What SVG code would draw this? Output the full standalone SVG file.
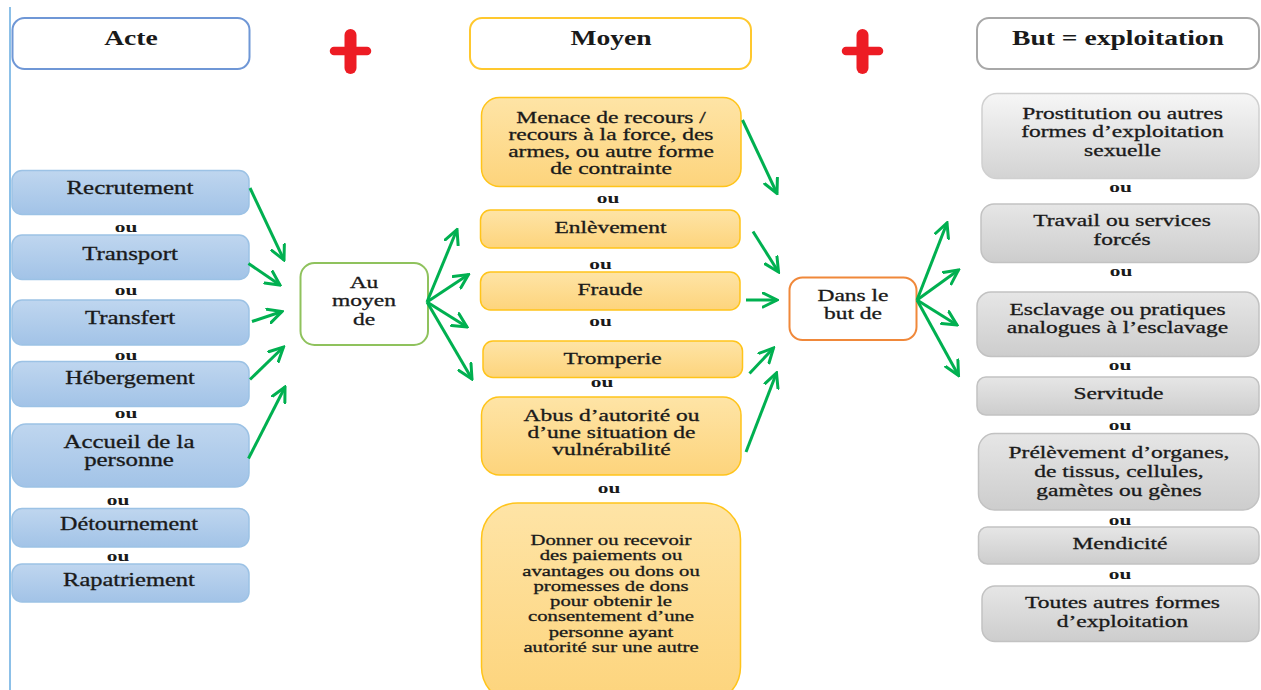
<svg xmlns="http://www.w3.org/2000/svg" width="1261" height="690" viewBox="0 0 1261 690">
<defs>
<linearGradient id="gBlue" x1="0" y1="0" x2="0" y2="1"><stop offset="0" stop-color="#bfd6ef"/><stop offset="1" stop-color="#a2c3e7"/></linearGradient>
<linearGradient id="gOrange" x1="0" y1="0" x2="0" y2="1"><stop offset="0" stop-color="#fee4a6"/><stop offset="1" stop-color="#fdd47c"/></linearGradient>
<linearGradient id="gGrey" x1="0" y1="0" x2="0" y2="1"><stop offset="0" stop-color="#e6e6e6"/><stop offset="1" stop-color="#cdcdcd"/></linearGradient>
<linearGradient id="gGreyL" x1="0" y1="0" x2="0" y2="1"><stop offset="0" stop-color="#f6f6f6"/><stop offset="1" stop-color="#d3d3d3"/></linearGradient>
<marker id="ah" markerUnits="userSpaceOnUse" viewBox="0 0 17 17" markerWidth="17" markerHeight="17" refX="15" refY="8.5" orient="auto">
<path d="M1,1.5 L15,8.5 L1,15.5" fill="none" stroke="#00b050" stroke-width="3" stroke-linecap="round"/>
</marker>
<style>
text{font-family:"Liberation Serif","Times New Roman",serif;fill:#1a1a1a;text-anchor:middle}
.l,.m,.s{stroke:#1a1a1a;stroke-width:0.3}
.h{font-size:20px;font-weight:bold}
.l{font-size:18px}
.m{font-size:17px}
.s{font-size:15px}
.ou{font-size:15.5px;font-weight:bold}
.bl{fill:url(#gBlue);stroke:#9cc2e5;stroke-width:1.5}
.or{fill:url(#gOrange);stroke:#ffc41a;stroke-width:1.5}
.gr{fill:url(#gGrey);stroke:#c2c2c2;stroke-width:1.5}
.hd{fill:#fff;stroke-width:2}
.plus{stroke:#ed1c24;stroke-linecap:round}
.c{stroke:#00b050;stroke-width:3;fill:none;marker-end:url(#ah)}
</style>
</defs>
<rect width="1261" height="690" fill="#fff"/>
<line x1="10" y1="7" x2="10" y2="690" stroke="#8cc0e8" stroke-width="2"/>

<g id="plus1"><line class="plus" x1="334" y1="51" x2="367" y2="51" stroke-width="8.5"/><line class="plus" x1="350.5" y1="35" x2="350.5" y2="68" stroke-width="12"/></g>
<g id="plus2"><line class="plus" x1="846" y1="51" x2="879" y2="51" stroke-width="8.5"/><line class="plus" x1="862.5" y1="35" x2="862.5" y2="68" stroke-width="12"/></g>

<g id="h-acte"><rect class="hd" x="12.5" y="18" width="237" height="51" rx="12" stroke="#6f97d6"/><text class="h" transform="translate(131,0) scale(1.38,1)" x="0" y="45">Acte</text></g>
<g id="h-moyen"><rect class="hd" x="470" y="18" width="281" height="51" rx="12" stroke="#ffc82e"/><text class="h" transform="translate(611,0) scale(1.38,1)" x="0" y="45">Moyen</text></g>
<g id="h-but"><rect class="hd" x="977" y="18" width="282" height="51" rx="12" stroke="#a8a8a8"/><text class="h" transform="translate(1118,0) scale(1.38,1)" x="0" y="45">But = exploitation</text></g>

<g id="recrutement"><rect class="bl" x="12" y="170.5" width="237" height="44" rx="10"/><text class="l" transform="translate(130,0) scale(1.38,1)" x="0" y="194">Recrutement</text></g>
<g id="transport"><rect class="bl" x="12" y="235" width="237" height="44.5" rx="10"/><text class="l" transform="translate(130,0) scale(1.38,1)" x="0" y="260">Transport</text></g>
<g id="transfert"><rect class="bl" x="12" y="300" width="237" height="45" rx="10"/><text class="l" transform="translate(130,0) scale(1.38,1)" x="0" y="324">Transfert</text></g>
<g id="hebergement"><rect class="bl" x="12" y="361.5" width="237" height="45" rx="10"/><text class="l" transform="translate(130,0) scale(1.34,1)" x="0" y="384">Hébergement</text></g>
<g id="accueil"><rect class="bl" x="12" y="424" width="237" height="63" rx="14"/><text class="l" transform="translate(129,0) scale(1.38,1)"><tspan x="0" y="448">Accueil de la</tspan><tspan x="0" y="466">personne</tspan></text></g>
<g id="detournement"><rect class="bl" x="12" y="508.5" width="237" height="38.5" rx="10"/><text class="l" transform="translate(129,0) scale(1.34,1)" x="0" y="530">Détournement</text></g>
<g id="rapatriement"><rect class="bl" x="12" y="564" width="237" height="38" rx="10"/><text class="l" transform="translate(129,0) scale(1.36,1)" x="0" y="586">Rapatriement</text></g>
<g id="ou-left">
<text class="ou" transform="translate(126,0) scale(1.38,1)" x="0" y="232">ou</text>
<text class="ou" transform="translate(126,0) scale(1.38,1)" x="0" y="295">ou</text>
<text class="ou" transform="translate(126,0) scale(1.38,1)" x="0" y="360">ou</text>
<text class="ou" transform="translate(126,0) scale(1.38,1)" x="0" y="418">ou</text>
<text class="ou" transform="translate(118,0) scale(1.38,1)" x="0" y="505">ou</text>
<text class="ou" transform="translate(118,0) scale(1.38,1)" x="0" y="561">ou</text>
</g>

<g id="au-moyen-de"><rect x="300.5" y="263" width="127.5" height="82" rx="14" fill="#fff" stroke="#8fc25d" stroke-width="2"/><text class="m" transform="translate(364,0) scale(1.38,1)"><tspan x="0" y="288">Au</tspan><tspan x="0" y="306.5">moyen</tspan><tspan x="0" y="325">de</tspan></text></g>

<g id="menace"><rect class="or" x="481.5" y="97.5" width="259.5" height="89" rx="18"/><text class="m" transform="translate(611,0) scale(1.38,1)"><tspan x="0" y="123">Menace de recours /</tspan><tspan x="0" y="140">recours à la force, des</tspan><tspan x="0" y="157">armes, ou autre forme</tspan><tspan x="0" y="174">de contrainte</tspan></text></g>
<g id="enlevement"><rect class="or" x="480.5" y="210" width="259.5" height="38" rx="10"/><text class="m" transform="translate(610.5,0) scale(1.38,1)" x="0" y="233">Enlèvement</text></g>
<g id="fraude"><rect class="or" x="480.5" y="272" width="259.5" height="38" rx="10"/><text class="m" transform="translate(610,0) scale(1.38,1)" x="0" y="295">Fraude</text></g>
<g id="tromperie"><rect class="or" x="483" y="341" width="259.5" height="36.5" rx="10"/><text class="m" transform="translate(612.5,0) scale(1.38,1)" x="0" y="364">Tromperie</text></g>
<g id="abus"><rect class="or" x="481.5" y="397" width="259.5" height="78" rx="18"/><text class="m" transform="translate(611.5,0) scale(1.38,1)"><tspan x="0" y="421.5">Abus d’autorité ou</tspan><tspan x="0" y="438.5">d’une situation de</tspan><tspan x="0" y="455.5">vulnérabilité</tspan></text></g>
<g id="donner"><rect class="or" x="481.5" y="503" width="259" height="200" rx="36"/><text class="s" transform="translate(611,0) scale(1.38,1)"><tspan x="0" y="545">Donner ou recevoir</tspan><tspan x="0" y="560.3">des paiements ou</tspan><tspan x="0" y="575.6">avantages ou dons ou</tspan><tspan x="0" y="590.9">promesses de dons</tspan><tspan x="0" y="606.2">pour obtenir le</tspan><tspan x="0" y="621.5">consentement d’une</tspan><tspan x="0" y="636.8">personne ayant</tspan><tspan x="0" y="652.1">autorité sur une autre</tspan></text></g>
<g id="ou-mid">
<text class="ou" transform="translate(608,0) scale(1.38,1)" x="0" y="203">ou</text>
<text class="ou" transform="translate(600.5,0) scale(1.38,1)" x="0" y="269">ou</text>
<text class="ou" transform="translate(600.5,0) scale(1.38,1)" x="0" y="326.5">ou</text>
<text class="ou" transform="translate(602,0) scale(1.38,1)" x="0" y="387">ou</text>
<text class="ou" transform="translate(609,0) scale(1.38,1)" x="0" y="493">ou</text>
</g>

<g id="dans-le-but-de"><rect x="789.5" y="277.5" width="127" height="62.5" rx="13" fill="#fff" stroke="#f0883a" stroke-width="2"/><text class="m" transform="translate(853,0) scale(1.38,1)"><tspan x="0" y="301">Dans le</tspan><tspan x="0" y="319.5">but de</tspan></text></g>

<g id="prostitution"><rect x="982" y="93.5" width="277" height="85" rx="15" fill="url(#gGreyL)" stroke="#d0d0d0" stroke-width="1.5"/><text class="m" transform="translate(1122.5,0) scale(1.38,1)"><tspan x="0" y="119">Prostitution ou autres</tspan><tspan x="0" y="137.5">formes d’exploitation</tspan><tspan x="0" y="156">sexuelle</tspan></text></g>
<g id="travail"><rect class="gr" x="981" y="204" width="278" height="58.5" rx="13"/><text class="m" transform="translate(1122,0) scale(1.38,1)"><tspan x="0" y="226.5">Travail ou services</tspan><tspan x="0" y="245">forcés</tspan></text></g>
<g id="esclavage"><rect class="gr" x="977" y="292" width="282" height="64.5" rx="14"/><text class="m" transform="translate(1117.5,0) scale(1.38,1)"><tspan x="0" y="315">Esclavage ou pratiques</tspan><tspan x="0" y="333.5">analogues à l’esclavage</tspan></text></g>
<g id="servitude"><rect class="gr" x="977" y="377" width="282" height="38" rx="9"/><text class="m" transform="translate(1118.5,0) scale(1.38,1)" x="0" y="399.5">Servitude</text></g>
<g id="prelevement"><rect class="gr" x="978.5" y="433.5" width="280.5" height="76.5" rx="16"/><text class="m" transform="translate(1119,0) scale(1.38,1)"><tspan x="0" y="458.5">Prélèvement d’organes,</tspan><tspan x="0" y="477.5">de tissus, cellules,</tspan><tspan x="0" y="496">gamètes ou gènes</tspan></text></g>
<g id="mendicite"><rect class="gr" x="978.5" y="527" width="280.5" height="37" rx="9"/><text class="m" transform="translate(1120,0) scale(1.38,1)" x="0" y="549.5">Mendicité</text></g>
<g id="toutes"><rect class="gr" x="982" y="586" width="277" height="55.5" rx="13"/><text class="m" transform="translate(1122.5,0) scale(1.38,1)"><tspan x="0" y="608.5">Toutes autres formes</tspan><tspan x="0" y="627">d’exploitation</tspan></text></g>
<g id="ou-right">
<text class="ou" transform="translate(1120.5,0) scale(1.38,1)" x="0" y="192">ou</text>
<text class="ou" transform="translate(1121,0) scale(1.38,1)" x="0" y="276">ou</text>
<text class="ou" transform="translate(1120,0) scale(1.38,1)" x="0" y="370">ou</text>
<text class="ou" transform="translate(1120,0) scale(1.38,1)" x="0" y="430.5">ou</text>
<text class="ou" transform="translate(1120,0) scale(1.38,1)" x="0" y="525">ou</text>
<text class="ou" transform="translate(1120,0) scale(1.38,1)" x="0" y="579">ou</text>
</g>

<g id="connectors">
<line class="c" x1="250" y1="188" x2="284" y2="260"/>
<line class="c" x1="248.5" y1="263.5" x2="280" y2="285"/>
<line class="c" x1="252" y1="321.5" x2="282" y2="311.5"/>
<line class="c" x1="250" y1="379.5" x2="283.5" y2="347"/>
<line class="c" x1="248.5" y1="458.5" x2="285" y2="387"/>

<line class="c" x1="427" y1="302" x2="457" y2="229.5"/>
<line class="c" x1="427" y1="302" x2="468.5" y2="274.5"/>
<line class="c" x1="427" y1="302" x2="467" y2="327"/>
<line class="c" x1="427" y1="302" x2="472" y2="379"/>

<line class="c" x1="742.5" y1="120" x2="777" y2="193.5"/>
<line class="c" x1="753" y1="231.5" x2="778.5" y2="272"/>
<line class="c" x1="746" y1="300" x2="777" y2="300"/>
<line class="c" x1="749.5" y1="373.5" x2="773.5" y2="348"/>
<line class="c" x1="746" y1="452" x2="776.5" y2="373"/>

<line class="c" x1="917" y1="300" x2="947" y2="223"/>
<line class="c" x1="917" y1="300" x2="958.5" y2="270"/>
<line class="c" x1="917" y1="300" x2="957" y2="325"/>
<line class="c" x1="917" y1="300" x2="958.5" y2="375.5"/>
</g>
</svg>
